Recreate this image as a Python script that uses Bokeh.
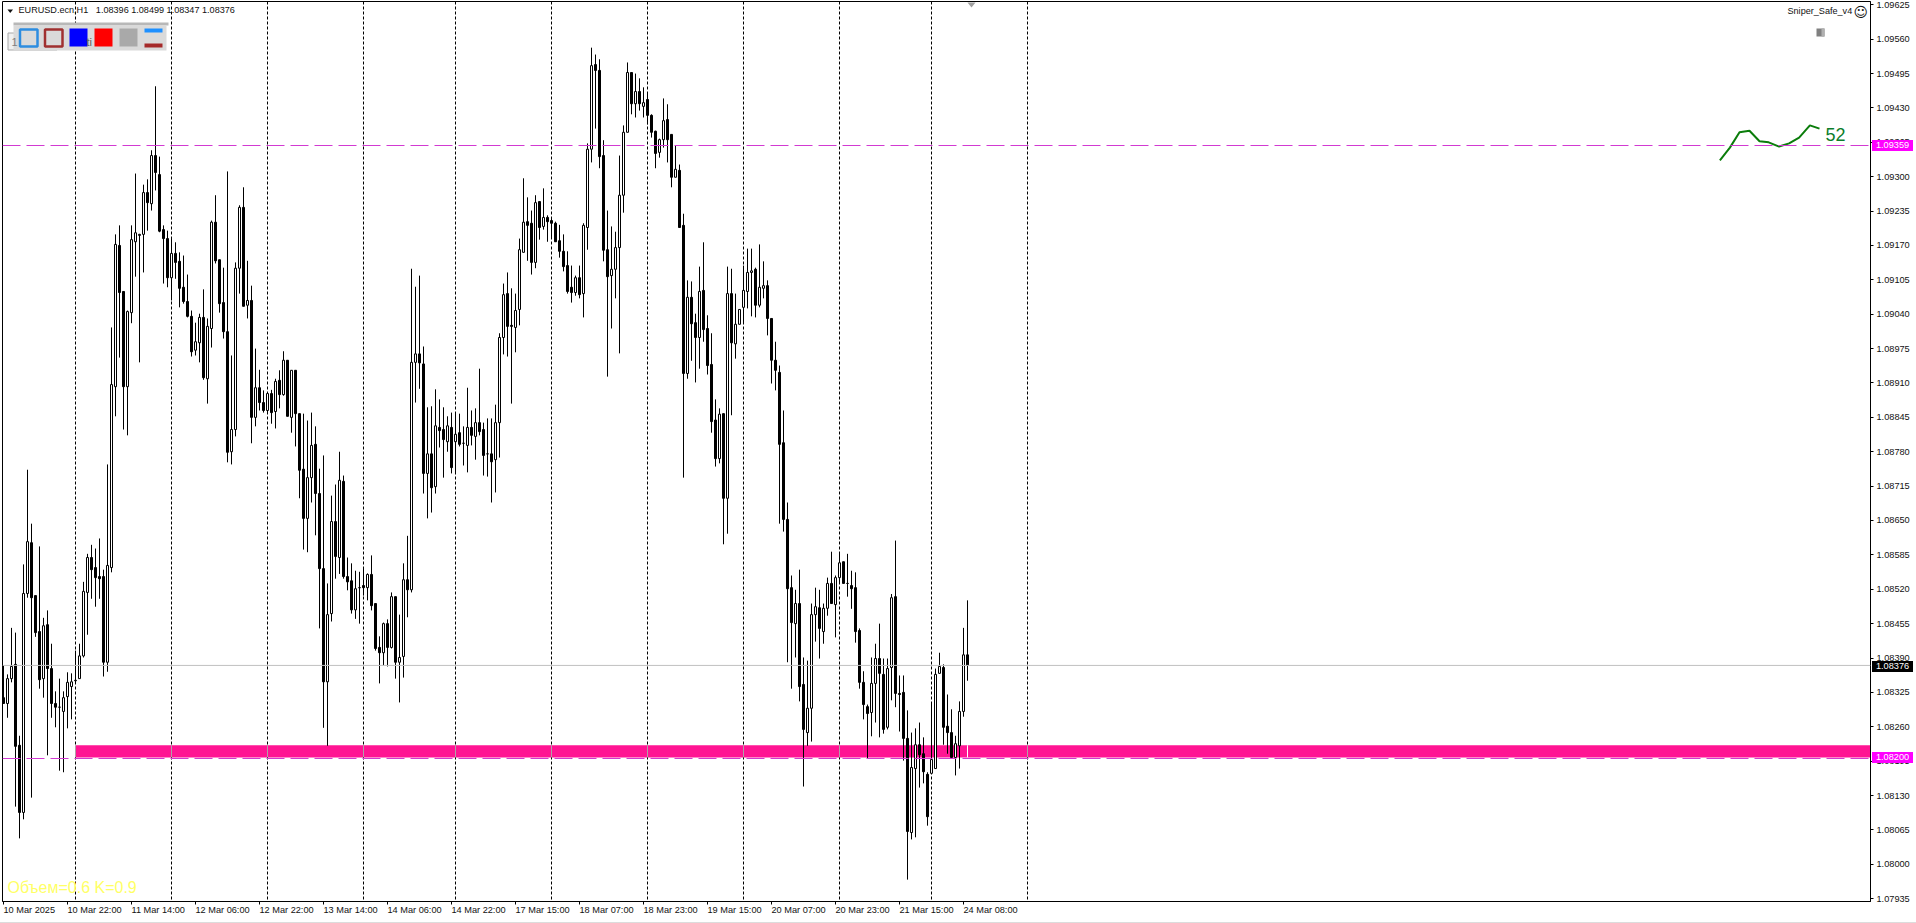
from bokeh.plotting import figure
from bokeh.models import Range1d, FixedTicker, NumeralTickFormatter, Label, Span, Div
from bokeh.layouts import column
from bokeh.embed import file_html
from bokeh.resources import INLINE

opens = [1.08315,1.08304,1.08351,1.08378,1.08225,1.08098,1.08512,1.08608,1.08508,1.08440,1.08351,1.08453,1.08370,1.08304,1.08297,1.08289,1.08317,1.08336,1.08347,1.08351,
1.08394,1.08514,1.08580,1.08561,1.08544,1.08544,1.08382,1.08561,1.08903,1.09170,1.09083,1.08903,1.09043,1.09177,1.09189,1.09191,1.09270,1.09249,1.09340,1.09304,
1.09200,1.09183,1.09109,1.09155,1.09140,1.09091,1.09064,1.09036,1.08972,1.08986,1.09034,1.08918,1.09013,1.09214,1.09143,1.09062,1.09007,1.08780,1.08822,1.09127,
1.09242,1.09057,1.09066,1.08845,1.08901,1.08873,1.08858,1.08890,1.08856,1.08915,1.08888,1.08953,1.08845,1.08934,1.08852,1.08747,1.08654,1.08731,1.08794,1.08701,
1.08559,1.08345,1.08474,1.08648,1.08580,1.08724,1.08544,1.08536,1.08481,1.08523,1.08527,1.08523,1.08548,1.08493,1.08410,1.08400,1.08455,1.08410,1.08506,1.08382,
1.08393,1.08538,1.08519,1.08949,1.08965,1.08946,1.08739,1.08776,1.08714,1.08826,1.08822,1.08799,1.08826,1.08799,1.08816,1.08796,1.08792,1.08826,1.08809,1.08835,
1.08822,1.08776,1.08776,1.08765,1.08835,1.08996,1.09079,1.09019,1.09015,1.09049,1.09157,1.09215,1.09212,1.09138,1.09253,1.09206,1.09223,1.09217,1.09212,1.09179,
1.09159,1.09132,1.09091,1.09081,1.09109,1.09079,1.09204,1.09352,1.09512,1.09501,1.09340,1.09162,1.09113,1.09125,1.09166,1.09265,1.09384,1.09497,1.09438,1.09461,
1.09433,1.09446,1.09416,1.09386,1.09346,1.09370,1.09408,1.09380,1.09299,1.09312,1.09208,1.08928,1.09072,1.09024,1.08996,1.09085,1.09013,1.08945,1.08840,1.08767,
1.08852,1.08692,1.09079,1.08984,1.09021,1.09053,1.09083,1.09119,1.09125,1.09057,1.09089,1.09094,1.09032,1.08953,1.08930,1.08797,1.08652,1.08523,1.08455,1.08493,
1.08340,1.08249,1.08295,1.08472,1.08485,1.08440,1.08484,1.08531,1.08491,1.08542,1.08572,1.08531,1.08527,1.08523,1.08442,1.08344,1.08298,1.08287,1.08342,1.08389,
1.08359,1.08259,1.08372,1.08506,1.08323,1.08325,1.08238,1.08060,1.08181,1.08226,1.08209,1.08170,1.08172,1.08181,1.08361,1.08372,1.08261,1.08249,1.08202,1.08224,
1.08289,1.08396]
highs = [1.08376,1.08359,1.08447,1.08438,1.08243,1.08567,1.08746,1.08644,1.08508,1.08601,1.08466,1.08480,1.08417,1.08327,1.08351,1.08327,1.08363,1.08361,1.08404,1.08417,
1.08534,1.08587,1.08604,1.08597,1.08616,1.08557,1.08756,1.09015,1.09191,1.09208,1.09083,1.09047,1.09208,1.09306,1.09192,1.09285,1.09295,1.09350,1.09471,1.09338,
1.09208,1.09198,1.09185,1.09176,1.09157,1.09151,1.09115,1.09047,1.09024,1.09041,1.09087,1.09032,1.09217,1.09265,1.09143,1.09128,1.09310,1.08962,1.09138,1.09246,
1.09280,1.09141,1.09094,1.08975,1.08935,1.08896,1.08890,1.08897,1.08918,1.08934,1.08970,1.08953,1.08934,1.08934,1.08852,1.08852,1.08839,1.08854,1.08828,1.08748,
1.08773,1.08531,1.08697,1.08718,1.08780,1.08735,1.08580,1.08569,1.08555,1.08553,1.08561,1.08550,1.08584,1.08493,1.08431,1.08457,1.08463,1.08514,1.08506,1.08472,
1.08569,1.08621,1.09126,1.09092,1.09113,1.08979,1.08864,1.08866,1.08898,1.08879,1.08864,1.08847,1.08854,1.08852,1.08852,1.08828,1.08901,1.08858,1.08862,1.08937,
1.08835,1.08843,1.08843,1.08869,1.09004,1.09098,1.09119,1.09089,1.09079,1.09183,1.09297,1.09261,1.09236,1.09265,1.09253,1.09278,1.09227,1.09223,1.09215,1.09209,
1.09191,1.09159,1.09132,1.09113,1.09132,1.09212,1.09363,1.09544,1.09531,1.09522,1.09369,1.09236,1.09206,1.09196,1.09340,1.09397,1.09516,1.09497,1.09495,1.09486,
1.09469,1.09459,1.09418,1.09387,1.09372,1.09448,1.09437,1.09380,1.09359,1.09323,1.09230,1.09104,1.09102,1.09041,1.09130,1.09176,1.09038,1.09004,1.08879,1.08862,
1.08852,1.09130,1.09126,1.09079,1.09049,1.09132,1.09164,1.09164,1.09128,1.09172,1.09140,1.09104,1.09032,1.08988,1.08943,1.08858,1.08684,1.08546,1.08519,1.08557,
1.08391,1.08385,1.08493,1.08523,1.08519,1.08493,1.08542,1.08591,1.08546,1.08587,1.08572,1.08587,1.08555,1.08552,1.08446,1.08365,1.08302,1.08391,1.08417,1.08455,
1.08389,1.08389,1.08511,1.08612,1.08357,1.08357,1.08291,1.08249,1.08257,1.08268,1.08240,1.08174,1.08304,1.08370,1.08400,1.08378,1.08321,1.08293,1.08243,1.08308,
1.08447,1.08499]
lows = [1.08304,1.08277,1.08344,1.08109,1.08049,1.08085,1.08504,1.08126,1.08430,1.08332,1.08315,1.08206,1.08277,1.08259,1.08177,1.08174,1.08257,1.08274,1.08344,1.08351,
1.08391,1.08434,1.08502,1.08487,1.08502,1.08355,1.08364,1.08552,1.08847,1.08958,1.08822,1.08811,1.09023,1.09111,1.08949,1.09119,1.09198,1.09236,1.09274,1.09195,
1.09098,1.09091,1.09066,1.09107,1.09053,1.09060,1.09034,1.08960,1.08962,1.08949,1.08916,1.08871,1.08977,1.09136,1.09043,1.08994,1.08760,1.08756,1.08809,1.09079,
1.09055,1.09032,1.08796,1.08828,1.08858,1.08854,1.08854,1.08833,1.08824,1.08862,1.08886,1.08847,1.08816,1.08790,1.08692,1.08595,1.08590,1.08684,1.08622,1.08446,
1.08258,1.08224,1.08459,1.08540,1.08549,1.08540,1.08518,1.08474,1.08464,1.08455,1.08508,1.08499,1.08480,1.08404,1.08342,1.08376,1.08374,1.08408,1.08351,1.08306,
1.08353,1.08467,1.08514,1.08873,1.08899,1.08701,1.08654,1.08665,1.08701,1.08788,1.08731,1.08780,1.08739,1.08741,1.08790,1.08754,1.08741,1.08792,1.08765,1.08811,
1.08735,1.08733,1.08684,1.08703,1.08769,1.08964,1.08960,1.08871,1.08968,1.09019,1.09157,1.09141,1.09115,1.09127,1.09181,1.09200,1.09177,1.09185,1.09177,1.09147,
1.09121,1.09079,1.09062,1.09075,1.09070,1.09034,1.09162,1.09327,1.09391,1.09316,1.09140,1.08922,1.09013,1.09070,1.08966,1.09232,1.09384,1.09418,1.09412,1.09425,
1.09412,1.09399,1.09374,1.09316,1.09336,1.09355,1.09327,1.09280,1.09299,1.09204,1.08731,1.08918,1.08952,1.08911,1.08937,1.08988,1.08926,1.08816,1.08752,1.08758,
1.08605,1.08625,1.08849,1.08956,1.09021,1.09024,1.09051,1.09036,1.09034,1.09053,1.09070,1.09000,1.08909,1.08896,1.08644,1.08629,1.08382,1.08332,1.08391,1.08308,
1.08147,1.08224,1.08232,1.08421,1.08389,1.08417,1.08470,1.08493,1.08429,1.08533,1.08531,1.08506,1.08483,1.08419,1.08332,1.08274,1.08200,1.08242,1.08268,1.08240,
1.08247,1.08255,1.08310,1.08297,1.08251,1.08196,1.07971,1.08047,1.08051,1.08145,1.08153,1.08073,1.08172,1.08181,1.08361,1.08226,1.08209,1.08202,1.08168,1.08181,
1.08279,1.08347]
closes = [1.08304,1.08351,1.08374,1.08223,1.08098,1.08512,1.08610,1.08504,1.08438,1.08349,1.08451,1.08370,1.08304,1.08297,1.08297,1.08315,1.08344,1.08345,1.08348,1.08394,
1.08516,1.08580,1.08557,1.08542,1.08540,1.08382,1.08565,1.08907,1.09172,1.09081,1.08903,1.09045,1.09181,1.09194,1.09191,1.09270,1.09251,1.09340,1.09308,1.09197,
1.09183,1.09109,1.09155,1.09138,1.09089,1.09064,1.09036,1.08969,1.08988,1.09034,1.08920,1.09017,1.09214,1.09141,1.09060,1.09007,1.08779,1.08822,1.09127,1.09242,
1.09055,1.09066,1.08845,1.08901,1.08873,1.08858,1.08890,1.08854,1.08913,1.08888,1.08953,1.08847,1.08934,1.08852,1.08745,1.08654,1.08731,1.08792,1.08701,1.08559,
1.08345,1.08472,1.08648,1.08582,1.08726,1.08544,1.08534,1.08481,1.08521,1.08523,1.08523,1.08548,1.08489,1.08408,1.08400,1.08455,1.08410,1.08506,1.08382,1.08391,
1.08538,1.08519,1.08949,1.08965,1.08948,1.08739,1.08776,1.08712,1.08829,1.08820,1.08803,1.08829,1.08750,1.08813,1.08794,1.08796,1.08826,1.08811,1.08835,1.08818,
1.08773,1.08776,1.08761,1.08835,1.08996,1.09077,1.09017,1.09017,1.09047,1.09162,1.09214,1.09208,1.09138,1.09251,1.09204,1.09223,1.09215,1.09212,1.09177,1.09159,
1.09130,1.09083,1.09081,1.09109,1.09077,1.09208,1.09352,1.09510,1.09501,1.09338,1.09161,1.09111,1.09125,1.09166,1.09265,1.09384,1.09497,1.09438,1.09461,1.09438,
1.09440,1.09416,1.09384,1.09344,1.09370,1.09406,1.09370,1.09299,1.09314,1.09204,1.08928,1.09072,1.09022,1.08996,1.09083,1.09011,1.08943,1.08837,1.08767,1.08851,
1.08692,1.09079,1.08986,1.09021,1.09049,1.09085,1.09119,1.09122,1.09057,1.09091,1.09094,1.09032,1.08953,1.08934,1.08794,1.08652,1.08521,1.08457,1.08493,1.08336,
1.08255,1.08295,1.08472,1.08487,1.08446,1.08484,1.08531,1.08493,1.08542,1.08570,1.08531,1.08531,1.08521,1.08440,1.08344,1.08302,1.08285,1.08342,1.08389,1.08361,
1.08255,1.08370,1.08504,1.08323,1.08321,1.08238,1.08062,1.08183,1.08226,1.08207,1.08175,1.08090,1.08198,1.08359,1.08374,1.08259,1.08249,1.08202,1.08228,1.08289,
1.08396,1.08376]

x_tick_index = [0,16,32,48,64,80,96,112,128,144,160,176,192,208,224,240]
x_tick_labels = ["10 Mar 2025","10 Mar 22:00","11 Mar 14:00","12 Mar 06:00","12 Mar 22:00","13 Mar 14:00","14 Mar 06:00","14 Mar 22:00",
                 "17 Mar 15:00","18 Mar 07:00","18 Mar 23:00","19 Mar 15:00","20 Mar 07:00","20 Mar 23:00","21 Mar 15:00","24 Mar 08:00"]
y_ticks = [1.09625,1.09560,1.09495,1.09430,1.09365,1.09300,1.09235,1.09170,1.09105,1.09040,1.08975,1.08910,1.08845,1.08780,1.08715,1.08650,
           1.08585,1.08520,1.08455,1.08390,1.08325,1.08260,1.08195,1.08130,1.08065,1.08000,1.07935]
separator_index = [18,42,66,90,113,137,161,185,209,232,256]
hline_prices = [1.09359,1.08200]
last_price = 1.08376
zone_low, zone_high = 1.08202, 1.08225
mini_x = [429.1,431.6,434.0,436.5,439.0,441.3,443.9,446.4,448.9,451.6,454.0]
mini_y = [1.09331,1.09355,1.09384,1.09387,1.09367,1.09365,1.09357,1.09363,1.09374,1.09397,1.09391]

W, H = 1916, 923
FL, FR, FT, FB = 2, 1870, 1, 901
def PX(px): return (px - 3.0) / 4.0
def PY(py): return 1.082 + (758.0 - py) / 52890.0

p = figure(width=W, height=H, output_backend="svg", toolbar_location=None,
           x_range=Range1d(PX(FL), PX(FR)), y_range=Range1d(PY(FB), PY(FT)),
           min_border_left=FL, min_border_right=W-FR, min_border_top=FT, min_border_bottom=H-FB,
           x_axis_location="below", y_axis_location="right", background_fill_color="white",
           border_fill_color="white", outline_line_color="black", outline_line_width=1)
p.margin = 0
p.grid.visible = False

FONT = "Liberation Sans"
ax = p.xaxis[0]
ax.ticker = FixedTicker(ticks=x_tick_index)
ax.major_label_overrides = dict(zip(x_tick_index, x_tick_labels))
ax.major_label_orientation = -1e-6
ax.major_tick_out = 3; ax.major_tick_in = 0; ax.minor_tick_out = 0; ax.minor_tick_in = 0
ax.major_label_standoff = 5
ay = p.yaxis[0]
ay.ticker = FixedTicker(ticks=y_ticks)
ay.formatter = NumeralTickFormatter(format="0.00000")
ay.major_tick_out = 3; ay.major_tick_in = 0; ay.minor_tick_out = 0; ay.minor_tick_in = 0
ay.major_label_standoff = 3
for a in (ax, ay):
    a.major_label_text_font = FONT
    a.major_label_text_font_size = "9.2px"
    a.major_label_text_color = "#111111"
    a.axis_line_color = "black"
    a.major_tick_line_color = "black"

idx = list(range(len(opens)))

# zone
p.quad(left=[separator_index[0]+0.1], right=[PX(FR)], bottom=[zone_low], top=[zone_high], fill_color="#ff1493", line_color=None)
# level lines
p.add_layout(Span(location=last_price, dimension="width", line_color="#c0c0c0", line_width=1))
for lv in hline_prices:
    p.add_layout(Span(location=lv, dimension="width", line_color="#d23ad2", line_width=1, line_dash="18 6"))
# day separators
ytop, ybot = PY(FT), PY(FB)
p.segment(x0=separator_index, x1=separator_index, y0=[ytop]*len(separator_index), y1=[ybot]*len(separator_index),
          line_color="black", line_width=1, line_dash="3 2")
p.segment(x0=separator_index, x1=separator_index, y0=[zone_high]*len(separator_index), y1=[zone_low]*len(separator_index),
          line_color="#b0a0a8", line_width=1)
p.segment(x0=[241], x1=[241], y0=[zone_high], y1=[zone_low], line_color="white", line_width=1)

# candles
p.segment(x0=idx, x1=idx, y0=lows, y1=highs, line_color="black", line_width=1)
up = [i for i in idx if closes[i] >= opens[i]]
dn = [i for i in idx if closes[i] < opens[i]]
p.vbar(x=up, width=0.5, bottom=[opens[i] for i in up], top=[closes[i] for i in up], fill_color="white", line_color="black", line_width=1)
p.vbar(x=dn, width=0.5, bottom=[closes[i] for i in dn], top=[opens[i] for i in dn], fill_color="black", line_color="black", line_width=1)

# mini line
p.line(mini_x, mini_y, line_color="#0b7d0b", line_width=2)

def rect(x0, y0, x1, y1, fill, line=None, lw=1):
    p.quad(left=[PX(x0)], right=[PX(x1)], top=[PY(y0)], bottom=[PY(y1)], fill_color=fill, line_color=line, line_width=lw)

def tri(xs, ys, color):
    p.patch([PX(v) for v in xs], [PY(v) for v in ys], fill_color=color, line_color=None)

def label(px, py, text, size, color="#111111", font=FONT, **kw):
    l = Label(x=PX(px), y=PY(py), text=text, text_font=font, text_font_size=size, text_color=color,
              text_baseline="middle", text_align="left", **kw)
    p.add_layout(l)

# trading panel
rect(7.5, 32.5, 56.5, 49.5, "#f0f0f0", "#a8a8a8")
rect(63, 48, 110, 49.5, "#555555")
label(11, 41, "1", "11px", "#808080")
rect(63, 32, 110, 48, "#f0f0f0")
label(86, 41, "ti", "11px", "#606060")
rect(13, 22, 168, 25, "#b8b8b8")
rect(13, 25, 166, 50, "#dadada")
rect(19.5, 29, 37, 46, "#dadada", "#2e8de0", 2.5)
rect(44.5, 29, 62, 46, "#dadada", "#a03030", 2.5)
rect(69, 28, 87, 46, "#0000ff")
rect(94, 28, 112, 46, "#ff0000")
rect(119, 28, 137, 46, "#a9a9a9")
rect(144, 28, 162, 32, "#1e90ff")
rect(144, 43, 162, 47, "#a52a2a")

# small markers
tri([7, 12.5, 9.7], [9, 9, 12.5], "#111111")
tri([967, 975, 971], [2, 2, 7], "#a0a0a0")
rect(1816, 28, 1824, 36, "#808080")
rect(1821, 28, 1824, 36, "#b0b0b0")

label(18, 9.5, "EURUSD.ecn,H1\u00a0\u00a0\u00a01.08396 1.08499 1.08347 1.08376", "9.1px")
label(1787, 10.5, "Sniper_Safe_v4", "9.1px")
label(1853, 11.5, "\u263a", "14px", "#111111", font="DejaVu Sans")
label(1825, 134, "52", "18px", "#0b7d2b")
label(7, 887, "\u041e\u0431\u044a\u0435\u043c=0.6 K=0.9", "16px", "#ffff66")

# price tags on the axis strip
def tag(top, text, bg):
    return Div(text=text, margin=0, width=41, height=11, styles={
        "position": "absolute", "left": "1872px", "top": f"{top}px", "width": "41px", "height": "11px",
        "background": bg, "color": "white", "font-family": FONT, "font-size": "9.2px",
        "line-height": "11px", "text-align": "center", "z-index": "10"})
tags = [tag(140, "1.09359", "#ff00ff"), tag(661, "1.08376", "#000000"), tag(752, "1.08200", "#ff00ff")]
edge = Div(text="", margin=0, width=W, height=1, styles={"position": "absolute", "left": "0px", "top": "922px",
           "width": f"{W}px", "height": "1px", "background": "#dcdcdc", "z-index": "10"})
page = column(p, *tags, edge, spacing=0, margin=0)

open("out.html", "w").write(file_html(page, INLINE))
